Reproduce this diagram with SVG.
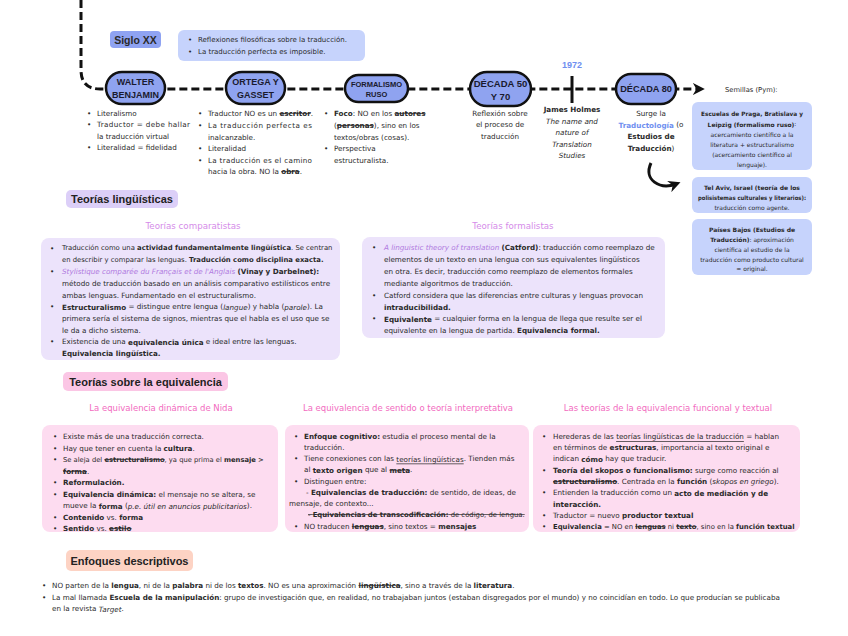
<svg xmlns="http://www.w3.org/2000/svg" width="848" height="636" viewBox="0 0 848 636">
<defs>
<marker id="ah" viewBox="0 0 10 10" refX="6" refY="5" markerWidth="4" markerHeight="4" orient="auto" markerUnits="strokeWidth">
<path d="M0,0 L10,5 L0,10 L3,5 Z" fill="#111"/>
</marker>
<style>
text{font-family:"DejaVu Sans","Liberation Sans",sans-serif;fill:#2a2a2a;dominant-baseline:central}
.t{font-size:7.2px}
.t7{font-size:7px}
.t69{font-size:6.85px}
.t67{font-size:6.75px}
.c{text-anchor:middle}
.b{font-weight:bold}
.i{font-style:italic}
.s{text-decoration:line-through}
.u{text-decoration:underline}
.node rect{fill:#8fa3f0;stroke:#111;stroke-width:2.5}
.node text{font-family:"Liberation Sans",Arial,sans-serif;font-weight:bold;text-anchor:middle;fill:#1a1a2e}
.conn{fill:none;stroke:#111;stroke-width:3}
.lb{fill:#c6d3fc}
.lp{fill:#ece3fb}
.pk{fill:#fddcf0}
.hdr{font-family:"Liberation Sans",Arial,sans-serif;font-size:11px;font-weight:bold;text-anchor:middle;fill:#222}
.sp{font-size:8.7px;text-anchor:middle;fill:#d58be9}
.sk{font-size:8.5px;text-anchor:middle;fill:#f26bc0}
.bl{fill:#6f8ff0}
.sm{font-size:6px;text-anchor:middle}
</style>
</defs>

<g id="connectors">
<path class="conn" d="M81,0 V70 Q81,89 100,89 H700" stroke-dasharray="8 4" marker-end="url(#ah)"/>
<line x1="572" y1="76" x2="572" y2="103" stroke="#111" stroke-width="3"/>
<path class="conn" d="M651,163 C643,180 660,190 676,184" stroke-width="3.5" marker-end="url(#ah)"/>
</g>

<g id="siglo-xx">
<rect x="110" y="31" width="51" height="17" rx="4" fill="#8fa3f2"/>
<text x="135.5" y="39.5" class="c b" style="font-family:'Liberation Sans',Arial,sans-serif;font-size:10.5px">Siglo XX</text>
</g>
<g id="siglo-xx-notes">
<rect x="178" y="30" width="187" height="31" rx="6" class="lb"/>
<text x="188" y="40" class="t7">•</text><text x="198" y="40" class="t7">Reflexiones filosóficas sobre la traducción.</text>
<text x="188" y="52" class="t7">•</text><text x="198" y="52" class="t7">La traducción perfecta es imposible.</text>
</g>

<g id="walter-benjamin" class="node">
<rect x="106" y="72" width="59" height="32" rx="16"/>
<text x="135.5" y="82" font-size="9">WALTER</text>
<text x="135.5" y="94.5" font-size="9">BENJAMIN</text>
</g>
<g id="walter-notes">
<text x="87" y="113" class="t">•</text><text x="97" y="113" class="t">Literalismo</text>
<text x="87" y="124" class="t">•</text><text x="97" y="124" class="t" textLength="93" lengthAdjust="spacing">Traductor = debe hallar</text>
<text x="97" y="136" class="t">la traducción virtual</text>
<text x="87" y="147" class="t">•</text><text x="97" y="147" class="t">Literalidad = fidelidad</text>
</g>

<g id="ortega-y-gasset" class="node">
<rect x="226" y="72" width="59" height="32" rx="16"/>
<text x="255.5" y="82" font-size="9">ORTEGA Y</text>
<text x="255.5" y="94.5" font-size="9">GASSET</text>
</g>
<g id="ortega-notes">
<text x="198" y="113" class="t">•</text><text x="208" y="113" class="t">Traductor NO es un <tspan class="b s">escritor</tspan>.</text>
<text x="198" y="125" class="t">•</text><text x="208" y="125" class="t" textLength="104" lengthAdjust="spacing">La traducción perfecta es</text>
<text x="208" y="137" class="t">inalcanzable.</text>
<text x="198" y="148" class="t">•</text><text x="208" y="148" class="t">Literalidad</text>
<text x="198" y="160" class="t">•</text><text x="208" y="160" class="t" textLength="104" lengthAdjust="spacing">La traducción es el camino</text>
<text x="208" y="171" class="t">hacia la obra. NO la <tspan class="b s">obra</tspan>.</text>
</g>

<g id="formalismo-ruso" class="node">
<rect x="345" y="75" width="63" height="27" rx="13.5"/>
<text x="376.5" y="84" font-size="7.5">FORMALISMO</text>
<text x="376.5" y="94" font-size="7.5">RUSO</text>
</g>
<g id="formalismo-notes">
<text x="324" y="113" class="t">•</text><text x="334" y="113" class="t"><tspan class="b">Foco</tspan>: NO en los <tspan class="b s">autores</tspan></text>
<text x="334" y="125" class="t">(<tspan class="b s">personas</tspan>), sino en los</text>
<text x="334" y="137" class="t">textos/obras (cosas).</text>
<text x="324" y="148" class="t">•</text><text x="334" y="148" class="t">Perspectiva</text>
<text x="334" y="160" class="t">estructuralista.</text>
</g>

<g id="decada-50-70" class="node">
<rect x="470" y="72" width="61" height="34" rx="17"/>
<text x="500.5" y="83" font-size="9.5">DÉCADA 50</text>
<text x="500.5" y="96" font-size="9.5">Y 70</text>
</g>
<g id="decada-50-notes">
<text x="500" y="113" class="t c">Reflexión sobre</text>
<text x="500" y="124.5" class="t c">el proceso de</text>
<text x="500" y="136" class="t c">traducción</text>
</g>

<g id="hito-1972">
<text x="572" y="65" class="c b bl" style="font-family:'Liberation Sans',Arial,sans-serif;font-size:9px">1972</text>
<text x="572" y="109" class="t c b">James Holmes</text>
<text x="572" y="121" class="t c i">The name and</text>
<text x="572" y="132" class="t c i">nature of</text>
<text x="572" y="144" class="t c i">Translation</text>
<text x="572" y="155" class="t c i">Studies</text>
</g>

<g id="decada-80" class="node">
<rect x="616" y="74" width="60" height="30" rx="15"/>
<text x="646" y="89" font-size="9.2">DÉCADA 80</text>
</g>
<g id="decada-80-notes">
<text x="651" y="113" class="t c">Surge la</text>
<text x="651" y="124.5" class="t c"><tspan class="b bl">Traductología</tspan> (o</text>
<text x="651" y="136" class="t c b">Estudios de</text>
<text x="651" y="148" class="t c"><tspan class="b">Traducción</tspan>)</text>
</g>

<g id="semillas">
<text x="725" y="90" class="t67" fill="#1a1a1a">Semillas (Pym):</text>
</g>

<g id="escuelas-praga">
<rect x="692" y="102" width="120" height="68" rx="6" class="lb"/>
<text x="752" y="113" class="sm b" textLength="102" lengthAdjust="spacingAndGlyphs">Escuelas de Praga, Bratislava y</text>
<text x="752" y="123.5" class="sm"><tspan class="b">Leipzig (formalismo ruso)</tspan>:</text>
<text x="752" y="134" class="sm">acercamiento científico a la</text>
<text x="752" y="144" class="sm">literatura + estructuralismo</text>
<text x="752" y="154" class="sm">(acercamiento científico al</text>
<text x="752" y="164" class="sm">lenguaje).</text>
</g>
<g id="tel-aviv">
<rect x="692" y="177" width="120" height="36" rx="6" class="lb"/>
<text x="752" y="187" class="sm b">Tel Aviv, Israel (teoría de los</text>
<text x="752" y="197" class="sm b" textLength="108" lengthAdjust="spacingAndGlyphs">polisistemas culturales y literarios):</text>
<text x="752" y="207" class="sm">traducción como agente.</text>
</g>
<g id="paises-bajos">
<rect x="692" y="219" width="120" height="56" rx="6" class="lb"/>
<text x="752" y="229" class="sm b">Países Bajos (Estudios de</text>
<text x="752" y="239" class="sm"><tspan class="b">Traducción)</tspan>: aproximación</text>
<text x="752" y="249" class="sm">científica al estudio de la</text>
<text x="752" y="259" class="sm">traducción como producto cultural</text>
<text x="752" y="268.5" class="sm">= original.</text>
</g>

<g id="teorias-linguisticas">
<rect x="66" y="190" width="112" height="18" rx="5" fill="#dccff8"/>
<text x="122" y="199" class="hdr">Teorías lingüísticas</text>
</g>

<g id="teorias-comparatistas">
<text x="193" y="226" class="sp">Teorías comparatistas</text>
<rect x="41" y="238" width="299" height="122" rx="8" class="lp"/>
<text x="50" y="248" class="t">•</text><text x="62" y="248" class="t69">Traducción como una <tspan class="b">actividad fundamentalmente lingüística</tspan>. Se centran</text>
<text x="62" y="259.5" class="t69">en describir y comparar las lenguas. <tspan class="b">Traducción como disciplina exacta.</tspan></text>
<text x="50" y="271" class="t">•</text><text x="62" y="271" class="t"><tspan class="i" fill="#b07ae0">Stylistique comparée du Français et de l'Anglais</tspan> <tspan class="b">(Vinay y Darbelnet):</tspan></text>
<text x="62" y="283" class="t">método de traducción basado en un análisis comparativo estilísticos entre</text>
<text x="62" y="295" class="t">ambas lenguas. Fundamentado en el estructuralismo.</text>
<text x="50" y="306.5" class="t">•</text><text x="62" y="306.5" class="t"><tspan class="b">Estructuralismo</tspan> = distingue entre lengua (<tspan class="i">langue</tspan>) y habla (<tspan class="i">parole</tspan>). La</text>
<text x="62" y="318" class="t">primera sería el sistema de signos, mientras que el habla es el uso que se</text>
<text x="62" y="330" class="t">le da a dicho sistema.</text>
<text x="50" y="341.5" class="t">•</text><text x="62" y="341.5" class="t">Existencia de una <tspan class="b">equivalencia única</tspan> e ideal entre las lenguas.</text>
<text x="62" y="353" class="t b">Equivalencia lingüística.</text>
</g>

<g id="teorias-formalistas">
<text x="513" y="226" class="sp">Teorías formalistas</text>
<rect x="362" y="237" width="303" height="101" rx="8" class="lp"/>
<text x="372" y="247" class="t">•</text><text x="384" y="247" class="t"><tspan class="i" fill="#b07ae0">A linguistic theory of translation</tspan> <tspan class="b">(Catford)</tspan>: traducción como reemplazo de</text>
<text x="384" y="259" class="t">elementos de un texto en una lengua con sus equivalentes lingüísticos</text>
<text x="384" y="271" class="t">en otra. Es decir, traducción como reemplazo de elementos formales</text>
<text x="384" y="283" class="t">mediante algoritmos de traducción.</text>
<text x="372" y="295" class="t">•</text><text x="384" y="295" class="t">Catford considera que las diferencias entre culturas y lenguas provocan</text>
<text x="384" y="307" class="t b">intraducibilidad.</text>
<text x="372" y="318.5" class="t">•</text><text x="384" y="318.5" class="t"><tspan class="b">Equivalente</tspan> = cualquier forma en la lengua de llega que resulte ser el</text>
<text x="384" y="330" class="t">equivalente en la lengua de partida. <tspan class="b">Equivalencia formal.</tspan></text>
</g>

<g id="teorias-equivalencia">
<rect x="63" y="372" width="165" height="19" rx="5" fill="#fbc6e5"/>
<text x="145.5" y="381.5" class="hdr">Teorías sobre la equivalencia</text>
</g>

<g id="equivalencia-dinamica">
<text x="161" y="408" class="sk">La equivalencia dinámica de Nida</text>
<rect x="42" y="425" width="236" height="107" rx="8" class="pk"/>
<text x="53" y="436.5" class="t">•</text><text x="63" y="436.5" class="t">Existe más de una traducción correcta.</text>
<text x="53" y="448" class="t">•</text><text x="63" y="448" class="t">Hay que tener en cuenta la <tspan class="b">cultura</tspan>.</text>
<text x="53" y="459.5" class="t">•</text><text x="63" y="459.5" class="t67">Se aleja del <tspan class="b s">estructuralismo</tspan>, ya que prima el <tspan class="b">mensaje</tspan> &gt;</text>
<text x="63" y="471" class="t"><tspan class="b s">forma</tspan>.</text>
<text x="53" y="482.5" class="t">•</text><text x="63" y="482.5" class="t b">Reformulación.</text>
<text x="53" y="494" class="t">•</text><text x="63" y="494" class="t"><tspan class="b">Equivalencia dinámica:</tspan> el mensaje no se altera, se</text>
<text x="63" y="505.5" class="t">mueve la <tspan class="b">forma</tspan> (<tspan class="i">p.e. útil en anuncios publicitarios</tspan>).</text>
<text x="53" y="517" class="t">•</text><text x="63" y="517" class="t"><tspan class="b">Contenido</tspan> vs. <tspan class="b">forma</tspan></text>
<text x="53" y="528" class="t">•</text><text x="63" y="528" class="t"><tspan class="b">Sentido</tspan> vs. <tspan class="b s">estilo</tspan></text>
</g>

<g id="equivalencia-sentido">
<text x="408" y="408" class="sk">La equivalencia de sentido o teoría interpretativa</text>
<rect x="285" y="425" width="244" height="107" rx="8" class="pk"/>
<text x="294" y="436" class="t">•</text><text x="304" y="436" class="t"><tspan class="b">Enfoque cognitivo:</tspan> estudia el proceso mental de la</text>
<text x="304" y="447" class="t">traducción.</text>
<text x="294" y="458.5" class="t">•</text><text x="304" y="458.5" class="t">Tiene conexiones con las <tspan class="u">teorías lingüísticas</tspan>. Tienden más</text>
<text x="304" y="469.5" class="t">al <tspan class="b">texto origen</tspan> que al <tspan class="b s">meta</tspan>.</text>
<text x="294" y="481" class="t">•</text><text x="304" y="481" class="t">Distinguen entre:</text>
<text x="306" y="492" class="t">- <tspan class="b">Equivalencias de traducción:</tspan> de sentido, de ideas, de</text>
<text x="289" y="503.5" class="t">mensaje, de contexto...</text>
<text x="308" y="514.5" class="t69 s">- <tspan class="b">Equivalencias de transcodificación:</tspan> de código, de lengua.</text>
<text x="294" y="526" class="t">•</text><text x="304" y="526" class="t">NO traducen <tspan class="b s">lenguas</tspan>, sino textos = <tspan class="b">mensajes</tspan></text>
</g>

<g id="equivalencia-funcional">
<text x="668" y="408" class="sk">Las teorías de la equivalencia funcional y textual</text>
<rect x="533" y="425" width="267" height="107" rx="8" class="pk"/>
<text x="542" y="436" class="t">•</text><text x="553" y="436" class="t">Herederas de las <tspan class="u">teorías lingüísticas de la traducción</tspan> = hablan</text>
<text x="553" y="447" class="t">en términos de <tspan class="b">estructuras</tspan>, importancia al texto original e</text>
<text x="553" y="458.5" class="t">indican <tspan class="b">cómo</tspan> hay que traducir.</text>
<text x="542" y="470" class="t">•</text><text x="553" y="470" class="t"><tspan class="b">Teoría del skopos o funcionalismo:</tspan> surge como reacción al</text>
<text x="553" y="481" class="t"><tspan class="b s">estructuralismo</tspan>. Centrada en la <tspan class="b">función</tspan> (<tspan class="i">skopos en griego</tspan>).</text>
<text x="542" y="492.5" class="t">•</text><text x="553" y="492.5" class="t">Entienden la traducción como un <tspan class="b">acto de mediación y de</tspan></text>
<text x="553" y="504" class="t b">interacción.</text>
<text x="542" y="515" class="t">•</text><text x="553" y="515" class="t">Traductor = nuevo <tspan class="b">productor textual</tspan></text>
<text x="542" y="526.5" class="t">•</text><text x="553" y="526.5" class="t69"><tspan class="b">Equivalencia</tspan> = NO en <tspan class="b s">lenguas</tspan> ni <tspan class="b s">texto</tspan>, sino en la <tspan class="b">función textual</tspan></text>
</g>

<g id="enfoques-descriptivos">
<rect x="66" y="550" width="127" height="21" rx="5" fill="#fdd3c4"/>
<text x="129.5" y="560.5" class="hdr">Enfoques descriptivos</text>
<text x="42" y="585" class="t">•</text><text x="52" y="585" class="t">NO parten de la <tspan class="b">lengua</tspan>, ni de la <tspan class="b">palabra</tspan> ni de los <tspan class="b">textos</tspan>. NO es una aproximación <tspan class="b s">lingüística</tspan>, sino a través de la <tspan class="b">literatura</tspan>.</text>
<text x="42" y="597" class="t">•</text><text x="52" y="597" class="t">La mal llamada <tspan class="b">Escuela de la manipulación</tspan>: grupo de investigación que, en realidad, no trabajaban juntos (estaban disgregados por el mundo) y no coincidían en todo. Lo que producían se publicaba</text>
<text x="52" y="608.5" class="t">en la revista <tspan class="i">Target</tspan>.</text>
</g>
</svg>
